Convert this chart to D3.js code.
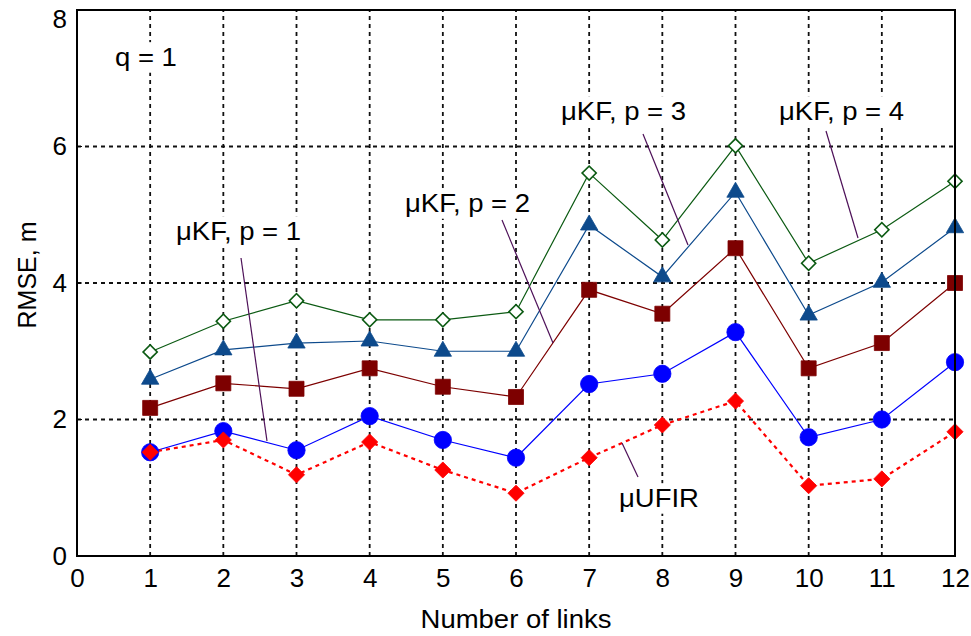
<!DOCTYPE html>
<html>
<head>
<meta charset="utf-8">
<script src="https://cdn.jsdelivr.net/npm/d3@7"></script>
<style>
  body { margin: 0; background: #fff; }
  svg { display: block; font-family: "Liberation Sans", Arial, sans-serif; }
</style>
</head>
<body>
<svg id="chart"></svg>
<script>
// links on the x axis
const links = [1, 2, 3, 4, 5, 6, 7, 8, 9, 10, 11, 12];

// RMSE values
const ufir = [1.52, 1.70, 1.19, 1.67, 1.26, 0.92, 1.44, 1.92, 2.27, 1.03, 1.13, 1.82];
const kfP1 = [1.52, 1.83, 1.55, 2.05, 1.70, 1.44, 2.52, 2.67, 3.28, 1.74, 2.00, 2.84];
const kfP2 = [2.17, 2.53, 2.45, 2.75, 2.48, 2.33, 3.90, 3.55, 4.51, 2.75, 3.12, 4.00];
const kfP3 = [2.59, 3.02, 3.12, 3.15, 3.00, 3.00, 4.85, 4.09, 5.33, 3.53, 4.01, 4.81];
const kfP4 = [2.99, 3.44, 3.74, 3.46, 3.46, 3.58, 5.61, 4.63, 6.01, 4.29, 4.78, 5.49];

const xTicks = [0, 1, 2, 3, 4, 5, 6, 7, 8, 9, 10, 11, 12];
const yTicks = [0, 2, 4, 6, 8];

const width = 971, height = 636;
const margin = { top: 10, right: 16, bottom: 80, left: 77 };
const sx = 1.1; // horizontal stretch of the text in the original

const svg = d3.select("#chart")
  .attr("width", width)
  .attr("height", height);

const x = d3.scaleLinear().domain([0, 12]).range([margin.left, width - margin.right]);
const y = d3.scaleLinear().domain([0, 8]).range([height - margin.bottom, margin.top]);

// grid
const grid = svg.append("g")
  .attr("stroke", "#111")
  .attr("stroke-width", 1.8)
  .attr("stroke-dasharray", "4,4");

grid.selectAll(".vgrid")
  .data(xTicks.filter(d => d > 0 && d < 12))
  .enter().append("line")
  .attr("x1", d => x(d)).attr("x2", d => x(d))
  .attr("y1", y(0)).attr("y2", y(8));

grid.selectAll(".hgrid")
  .data(yTicks.filter(d => d > 0 && d < 8))
  .enter().append("line")
  .attr("x1", x(0)).attr("x2", x(12))
  .attr("y1", d => y(d)).attr("y2", d => y(d));

// axes
const xAxis = d3.axisBottom(x).tickValues(xTicks).tickSize(0).tickPadding(13);
const yAxis = d3.axisLeft(y).tickValues(yTicks).tickSize(0).tickPadding(10);

svg.append("g")
  .attr("transform", `translate(0,${y(0)})`)
  .call(xAxis)
  .call(g => g.select(".domain").remove())
  .selectAll("text")
  .attr("fill", "#000")
  .style("font-size", "26px");

svg.append("g")
  .attr("transform", `translate(${x(0)},0)`)
  .call(yAxis)
  .call(g => g.select(".domain").remove())
  .call(g => g.selectAll(".tick").filter(d => d === 8).select("text").attr("dy", "0.68em"))
  .selectAll("text")
  .attr("fill", "#000")
  .style("font-size", "26px");

// small tick marks inside the box
svg.append("g").selectAll("line")
  .data(yTicks)
  .enter().append("line")
  .attr("x1", x(0)).attr("x2", x(0) + 5)
  .attr("y1", d => y(d)).attr("y2", d => y(d))
  .attr("stroke", "#000").attr("stroke-width", 1);

// series
const series = [
  { name: "p4", values: kfP4, color: "#0b5a12", width: 1.2, dash: null, shape: "diamond", size: 100, fill: "#fff" },
  { name: "p3", values: kfP3, color: "#0d4a8c", width: 1.2, dash: null, shape: "triangle", size: 130, fill: "#0d4a8c" },
  { name: "p2", values: kfP2, color: "#7d0000", width: 1.2, dash: null, shape: "square", size: 225, fill: "#7d0000" },
  { name: "p1", values: kfP1, color: "#0000ff", width: 1.2, dash: null, shape: "circle", size: 235, fill: "#0000ff" },
  { name: "ufir", values: ufir, color: "#ff0000", width: 2.2, dash: "4,4", shape: "diamond", size: 130, fill: "#ff0000" }
];

const line = d3.line()
  .x((d, i) => x(links[i]))
  .y(d => y(d));

const symbolType = {
  circle: d3.symbolCircle,
  square: d3.symbolSquare,
  triangle: d3.symbolTriangle,
  diamond: d3.symbolSquare
};

series.forEach(s => {
  svg.append("path")
    .datum(s.values)
    .attr("fill", "none")
    .attr("stroke", s.color)
    .attr("stroke-width", s.width)
    .attr("stroke-dasharray", s.dash)
    .attr("d", line);
});

series.forEach(s => {
  svg.append("g").selectAll("path")
    .data(s.values)
    .enter().append("path")
    .attr("d", d3.symbol().type(symbolType[s.shape]).size(s.size))
    .attr("transform", (d, i) => `translate(${x(links[i])},${y(d)})` + (s.shape === "diamond" ? " rotate(45)" : ""))
    .attr("fill", s.fill)
    .attr("stroke", s.color)
    .attr("stroke-width", s.fill === "#fff" ? 1.6 : 0.8);
});

// box
svg.append("rect")
  .attr("x", x(0)).attr("y", y(8))
  .attr("width", x(12) - x(0))
  .attr("height", y(0) - y(8))
  .attr("fill", "none")
  .attr("stroke", "#000")
  .attr("stroke-width", 2);

// leader lines
const leaders = [
  [241, 258, 267, 441],
  [502, 220, 553, 343],
  [643, 134, 688, 245],
  [826, 131, 858, 238],
  [622, 443, 638, 477]
];
svg.append("g").selectAll("line")
  .data(leaders)
  .enter().append("line")
  .attr("x1", d => d[0]).attr("y1", d => d[1])
  .attr("x2", d => d[2]).attr("y2", d => d[3])
  .attr("stroke", "#4d1058")
  .attr("stroke-width", 1.2);

// annotations with white boxes behind them
const notes = [
  { text: "q = 1", x: 115, y: 66 },
  { text: "μKF, p = 1", x: 176, y: 240 },
  { text: "μKF, p = 2", x: 405, y: 212 },
  { text: "μKF, p = 3", x: 561, y: 120 },
  { text: "μKF, p = 4", x: 779, y: 120 },
  { text: "μUFIR", x: 619, y: 507 }
];
const note = svg.append("g").selectAll("g")
  .data(notes)
  .enter().append("g")
  .attr("transform", d => `translate(${d.x},${d.y}) scale(${sx},1)`);

note.append("rect").attr("fill", "#fff");
note.append("text")
  .attr("fill", "#000")
  .style("font-size", "25px")
  .text(d => d.text);

note.each(function() {
  const g = d3.select(this);
  const b = g.select("text").node().getBBox();
  g.select("rect")
    .attr("x", b.x - 3).attr("y", b.y - 1)
    .attr("width", b.width + 6).attr("height", b.height + 2);
});

// axis titles
svg.append("text")
  .attr("transform", `translate(${(x(0) + x(12)) / 2},628) scale(${sx},1)`)
  .attr("text-anchor", "middle")
  .style("font-size", "25px")
  .text("Number of links");

svg.append("text")
  .attr("transform", `translate(36,275) rotate(-90)`)
  .attr("text-anchor", "middle")
  .style("font-size", "25px")
  .text("RMSE, m");
</script>
</body>
</html>
